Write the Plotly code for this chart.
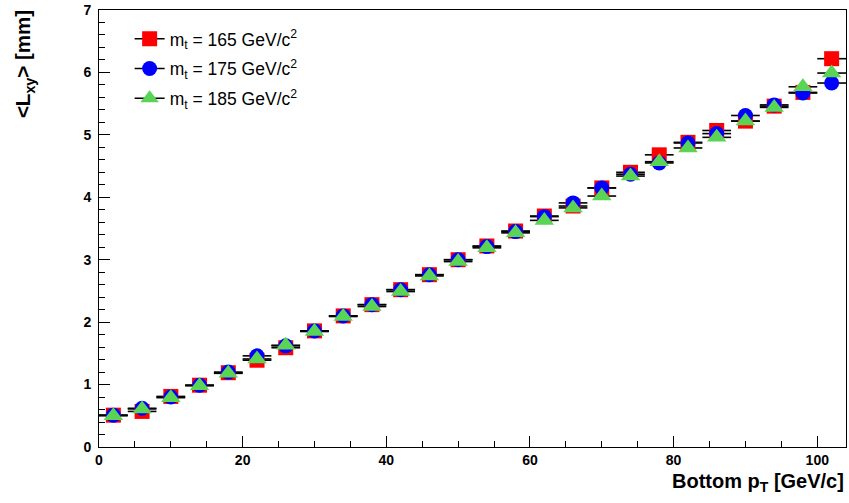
import plotly.graph_objects as go

# ---- data ----
pt_bins = [2, 6, 10, 14, 18, 22, 26, 30, 34, 38, 42, 46, 50, 54, 58, 62, 66, 70, 74, 78, 82, 86, 90, 94, 98, 102]
pt_halfwidth = [2] * len(pt_bins)
lxy_165 = [0.51, 0.57, 0.81, 0.99, 1.19, 1.39, 1.59, 1.86, 2.10, 2.28, 2.52, 2.76, 3.00, 3.22, 3.46, 3.70, 3.86, 4.15, 4.40, 4.68, 4.88, 5.07, 5.22, 5.46, 5.68, 6.22]
lxy_175 = [0.51, 0.62, 0.80, 0.99, 1.20, 1.46, 1.62, 1.86, 2.10, 2.28, 2.52, 2.76, 3.00, 3.21, 3.45, 3.69, 3.91, 4.15, 4.37, 4.55, 4.87, 5.02, 5.31, 5.48, 5.67, 5.83]
lxy_185 = [0.50, 0.61, 0.79, 0.98, 1.18, 1.41, 1.63, 1.85, 2.09, 2.25, 2.49, 2.74, 2.97, 3.19, 3.43, 3.63, 3.83, 4.02, 4.34, 4.57, 4.79, 4.96, 5.22, 5.44, 5.77, 5.99]
labels = ["m<sub>t</sub> = 165 GeV/c<sup>2</sup>",
          "m<sub>t</sub> = 175 GeV/c<sup>2</sup>",
          "m<sub>t</sub> = 185 GeV/c<sup>2</sup>"]
series = [lxy_165, lxy_175, lxy_185]
colors = ["#FF0000", "#0000FF", "#59D454"]
symbols = ["square", "circle", "triangle-up"]
sizes = [15, 15, 17]

fig = go.Figure()

# error bars (drawn beneath all markers)
for ys in series:
    fig.add_trace(go.Scatter(
        x=pt_bins, y=ys, mode="markers",
        marker=dict(size=1, opacity=0),
        error_x=dict(type="data", array=pt_halfwidth, color="black", thickness=1.6, width=0),
        showlegend=False, hoverinfo="skip"))

# markers
for ys, c, s, sz in zip(series, colors, symbols, sizes):
    fig.add_trace(go.Scatter(
        x=pt_bins, y=ys, mode="markers",
        marker=dict(color=c, symbol=s, size=sz, line=dict(width=0)),
        showlegend=False))

# legend entries
for i, (lab, c, s, sz) in enumerate(zip(labels, colors, symbols, sizes)):
    fig.add_trace(go.Scatter(
        x=[None], y=[None], mode="lines+markers", name=lab,
        legendgroup="g%d" % i,
        line=dict(color="black", width=1.5),
        marker=dict(color=c, symbol=s, size=sz, line=dict(width=0))))

axis_font = dict(family="Liberation Sans, Arial, sans-serif", size=14, color="black")

fig.update_layout(
    width=849, height=503,
    margin=dict(l=99, r=3, t=10, b=56),
    paper_bgcolor="white", plot_bgcolor="white",
    font=dict(family="Liberation Sans, Arial, sans-serif", color="black"),
    showlegend=True,
    legend=dict(x=0.041, y=0.975, xanchor="left", yanchor="top",
                bgcolor="rgba(0,0,0,0)", borderwidth=0,
                font=dict(size=17.5, family="Liberation Sans, Arial, sans-serif"),
                tracegroupgap=4, itemwidth=30),
    xaxis=dict(range=[0, 104], showgrid=False, zeroline=False,
               showline=True, linecolor="black", linewidth=1, mirror=True,
               ticks="inside", ticklen=11, tickcolor="black", tickwidth=1,
               tick0=0, dtick=20,
               minor=dict(dtick=5, ticks="inside", ticklen=6, tickcolor="black", tickwidth=1),
               tickfont=axis_font,
               tickprefix="<b>", ticksuffix="</b>"),
    yaxis=dict(range=[0, 7], showgrid=False, zeroline=False,
               showline=True, linecolor="black", linewidth=1, mirror=True,
               ticks="inside", ticklen=11, tickcolor="black", tickwidth=1,
               tick0=0, dtick=1, ticklabelstandoff=4,
               minor=dict(dtick=0.2, ticks="inside", ticklen=6, tickcolor="black", tickwidth=1),
               tickfont=axis_font,
               tickprefix="<b>", ticksuffix="</b>"),
    annotations=[
        dict(text="<b>Bottom p<sub>T</sub> [GeV/c]</b>", xref="paper", yref="paper",
             x=1.0, y=-0.048, xanchor="right", yanchor="top", showarrow=False,
             font=dict(size=20, family="Liberation Sans, Arial, sans-serif", color="black")),
        dict(text="<b>&lt;L<sub>xy</sub>&gt; [mm]</b>", xref="paper", yref="paper",
             x=-0.1, y=1.005, xanchor="center", yanchor="top", textangle=-90,
             showarrow=False,
             font=dict(size=20.5, family="Liberation Sans, Arial, sans-serif", color="black")),
    ],
)

fig.write_html("out.html")
